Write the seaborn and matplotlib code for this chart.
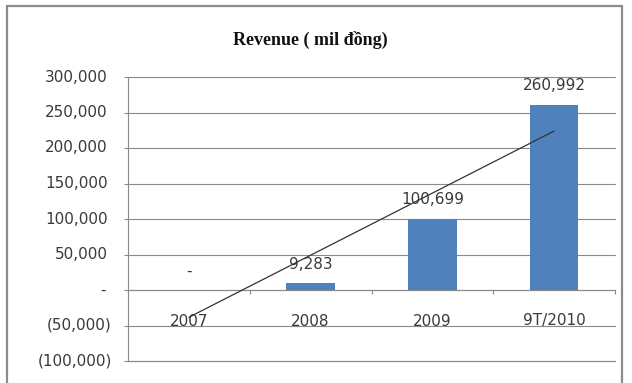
import numpy as np
import matplotlib
matplotlib.use("Agg")
import matplotlib.pyplot as plt
from matplotlib.patches import Rectangle
import seaborn as sns

# Revenue by period, million VND
categories = ["2007", "2008", "2009", "9T/2010"]
revenue = [0, 9283, 100699, 260992]
y_ticks = [-100000, -50000, 0, 50000, 100000, 150000, 200000, 250000, 300000]
title = "Revenue ( mil đồng)"

BAR = "#4F81BD"
GRID = "#8a8a8a"
TXT = "#3a3a3a"


def acct(v):
    # accounting style: negatives in parentheses, zero as a dash
    if v == 0:
        return "-"
    if v < 0:
        return "({:,.0f})".format(-v)
    return "{:,.0f}".format(v)


sns.set_style("white")
plt.rcParams["font.family"] = ["DejaVu Sans"]

fig = plt.figure(figsize=(6.32, 3.83), dpi=100)
ax = fig.add_axes([128 / 632, 22 / 383, 487 / 632, 284 / 383])

sns.barplot(x=categories, y=revenue, color=BAR, saturation=1, width=0.4,
            edgecolor="none", ax=ax)

# linear trend over the periods
xs = np.arange(len(revenue))
slope, icpt = np.polyfit(xs, revenue, 1)
ax.plot(xs[[0, -1]], icpt + slope * xs[[0, -1]], color="#333333", lw=0.9, zorder=4)

ax.set_xlim(-0.5, len(categories) - 0.5)
ax.set_ylim(y_ticks[0], y_ticks[-1])

# horizontal gridlines, with short outside ticks on the value axis
ax.set_yticks(y_ticks)
ax.yaxis.grid(True, color=GRID, lw=0.8)
for gl in ax.yaxis.get_gridlines():
    gl.set_clip_on(False)
ax.axhline(y_ticks[0], color=GRID, lw=0.8, clip_on=False, zorder=0.5)
ax.set_axisbelow(True)
ax.tick_params(axis="y", length=3, width=0.8, color=GRID, labelleft=False, left=True)

for s in ("top", "right"):
    ax.spines[s].set_visible(False)
ax.spines["left"].set_color(GRID)
ax.spines["left"].set_linewidth(0.8)

# category axis crosses at zero with ticks between categories
ax.spines["bottom"].set_position(("data", 0))
ax.spines["bottom"].set_color(GRID)
ax.spines["bottom"].set_linewidth(0.8)
ax.set_xticks(np.arange(len(categories) + 1) - 0.5)
ax.tick_params(axis="x", length=3, width=0.8, color=GRID, direction="out",
               labelbottom=False, bottom=True)
ax.set_xlabel("")
ax.set_ylabel("")

# value-axis labels, accounting aligned
for v in y_ticks:
    if v < 0:
        dx = -16
    elif v == 0:
        dx = -22
    else:
        dx = -20
    ax.annotate(acct(v), xy=(0, v), xycoords=("axes fraction", "data"),
                xytext=(dx, 0), textcoords="offset pixels",
                ha="right", va="center", fontsize=11, color=TXT,
                annotation_clip=False)

# category labels just under the zero line
for i, c in enumerate(categories):
    ax.annotate(c, xy=(i, 0), xytext=(0, -31), textcoords="offset pixels",
                ha="center", va="center", fontsize=11, color=TXT,
                annotation_clip=False)

# value labels above each bar
for i, v in enumerate(revenue):
    ax.annotate(acct(v), xy=(i, v), xytext=(0, 19), textcoords="offset pixels",
                ha="center", va="center", fontsize=11, color=TXT,
                annotation_clip=False)

fig.text(310 / 632, 1 - 40 / 383, title, ha="center", va="center",
         fontsize=13, fontweight="bold", family="Liberation Serif", color="#111111")

# chart frame
fig.patches.append(Rectangle((7 / 632, -0.05), 615 / 632, 1.05 - 6 / 383,
                             transform=fig.transFigure, fill=False,
                             edgecolor="#8c8c8c", lw=1.6))

fig.savefig("out.png", dpi=100)
